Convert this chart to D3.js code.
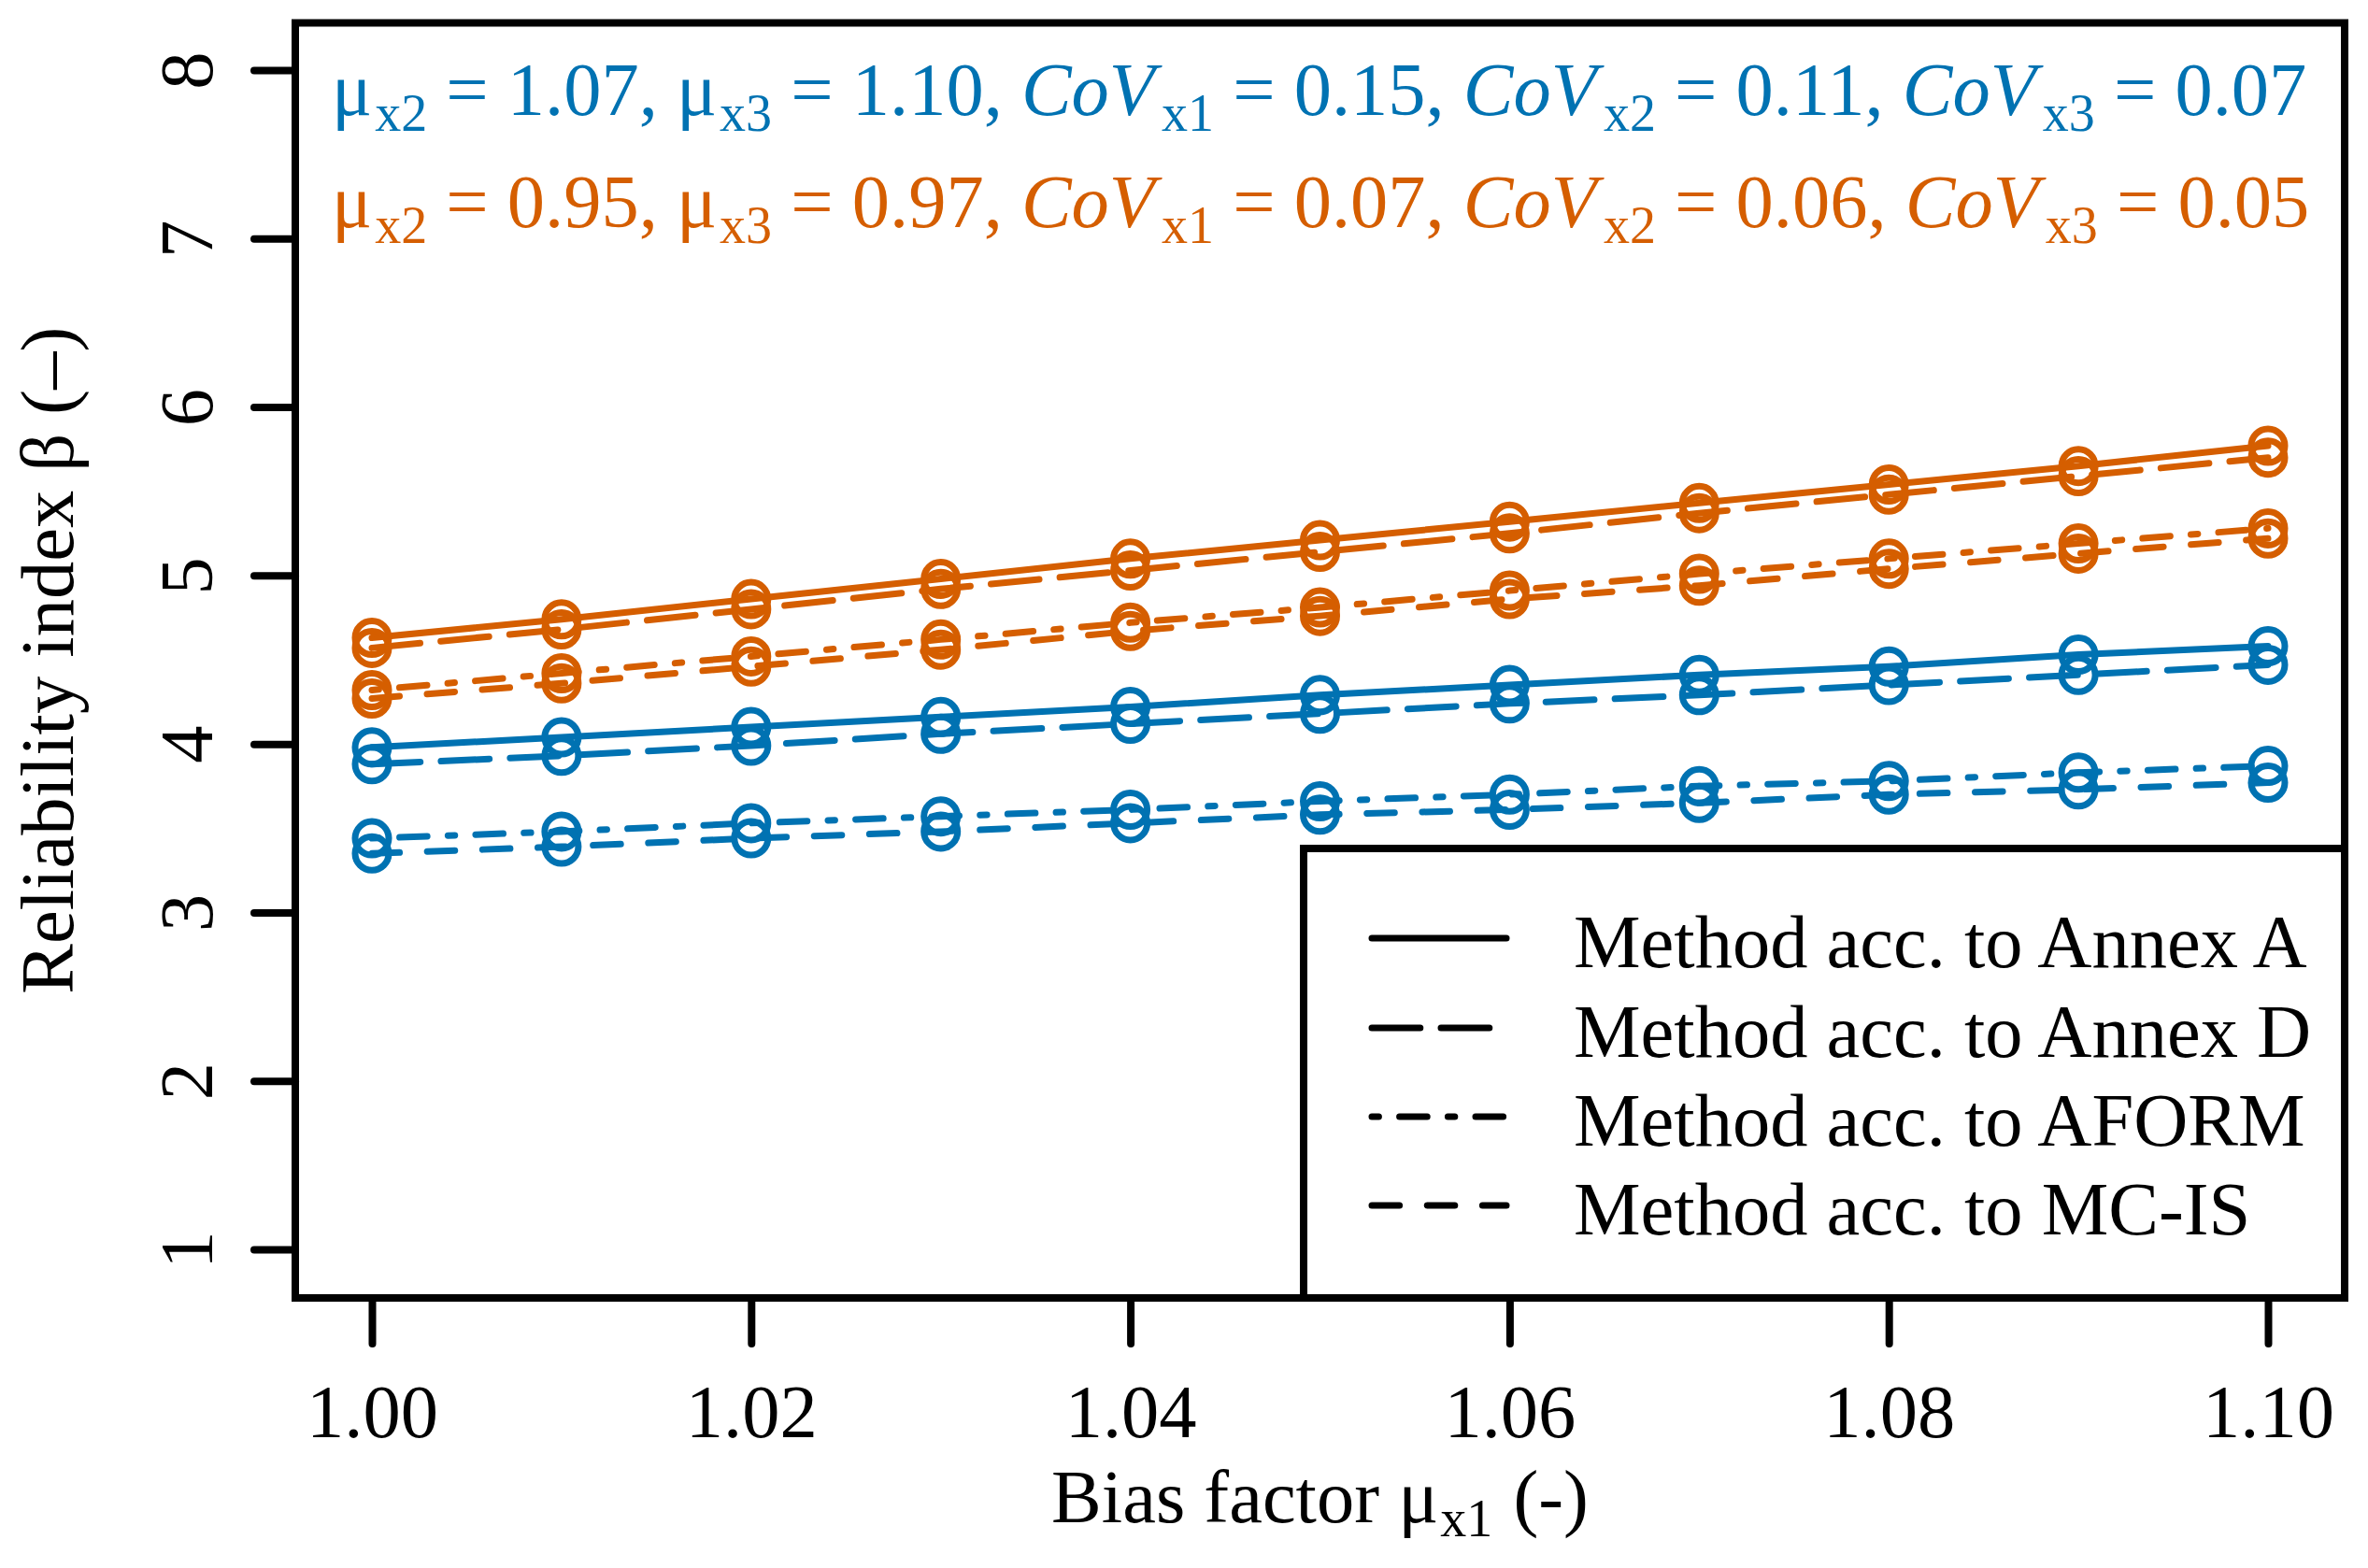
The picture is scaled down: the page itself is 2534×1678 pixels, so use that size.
<!DOCTYPE html>
<html>
<head>
<meta charset="utf-8">
<script src="https://cdn.jsdelivr.net/npm/d3@7/dist/d3.min.js"></script>
<style>
  html, body { margin: 0; padding: 0; background: #ffffff; }
  svg { display: block; }
  text { font-family: "Liberation Serif", "Times New Roman", serif; }
</style>
</head>
<body>
<script>
// ---------------- data ----------------
const biasFactor = [1.00, 1.01, 1.02, 1.03, 1.04, 1.05, 1.06, 1.07, 1.08, 1.09, 1.10];

const blueAnnexA = [3.98, 4.04, 4.10, 4.16, 4.22, 4.29, 4.35, 4.41, 4.46, 4.53, 4.58];
const blueAnnexD = [3.88, 3.93, 3.99, 4.06, 4.12, 4.18, 4.24, 4.29, 4.35, 4.41, 4.47];
const blueAFORM  = [3.44, 3.48, 3.53, 3.57, 3.61, 3.66, 3.70, 3.75, 3.78, 3.83, 3.87];
const blueMCIS   = [3.35, 3.39, 3.44, 3.48, 3.53, 3.58, 3.61, 3.65, 3.70, 3.73, 3.77];

const orangeAnnexA = [4.63, 4.74, 4.86, 4.98, 5.10, 5.21, 5.32, 5.43, 5.54, 5.65, 5.77];
const orangeAnnexD = [4.57, 4.68, 4.80, 4.92, 5.03, 5.14, 5.25, 5.37, 5.48, 5.59, 5.70];
const orangeAFORM  = [4.32, 4.42, 4.52, 4.62, 4.72, 4.81, 4.91, 5.01, 5.10, 5.19, 5.28];
const orangeMCIS   = [4.27, 4.36, 4.46, 4.56, 4.67, 4.76, 4.86, 4.94, 5.04, 5.13, 5.22];

const xTickValues = [1.00, 1.02, 1.04, 1.06, 1.08, 1.10];
const yTickValues = [1, 2, 3, 4, 5, 6, 7, 8];

const methodNames = ["Method acc. to Annex A", "Method acc. to Annex D",
                     "Method acc. to AFORM", "Method acc. to MC-IS"];

// annotation parameters (blue row, orange row)
const muX2  = ["1.07", "0.95"];
const muX3  = ["1.10", "0.97"];
const covX1 = ["0.15", "0.07"];
const covX2 = ["0.11", "0.06"];
const covX3 = ["0.07", "0.05"];

const xTitle = "Bias factor μ";
const yTitle = "Reliability index β (–)";

// ---------------- styles ----------------
const W = 2534, H = 1678;
const BLUE = "#0072B2", ORANGE = "#D55E00";
const FS = 80.5;        // main font size
const SUBFS = 56;       // subscript font size
const LW = 7;           // data line width
const U = 7.4;          // dash unit
const dashes = [null, [7*U, 3*U], [1*U, 3*U, 4*U, 3*U], [4*U, 4*U]];

const box = { l: 316, r: 2509, t: 24.5, b: 1389 };

const svg = d3.select("body").append("svg")
  .attr("width", W).attr("height", H).attr("viewBox", `0 0 ${W} ${H}`);
svg.append("rect").attr("width", W).attr("height", H).attr("fill", "#fff");

const x = d3.scaleLinear().domain([1.00, 1.10]).range([398, 2427]);
const y = d3.scaleLinear().domain([1, 8]).range([1337, 75]);

// ---------------- data series ----------------
const groups = [
  { color: BLUE,   series: [blueAnnexA, blueAnnexD, blueAFORM, blueMCIS] },
  { color: ORANGE, series: [orangeAnnexA, orangeAnnexD, orangeAFORM, orangeMCIS] }
];

const line = d3.line().x(d => x(d[0])).y(d => y(d[1]));
const plotG = svg.append("g");
groups.forEach(g => {
  g.series.forEach((vals, mi) => {
    const pts = biasFactor.map((b, i) => [b, vals[i]]);
    plotG.append("path")
      .attr("d", line(pts))
      .attr("fill", "none")
      .attr("stroke", g.color)
      .attr("stroke-width", LW)
      .attr("stroke-linecap", "round")
      .attr("stroke-linejoin", "round")
      .attr("stroke-dasharray", dashes[mi] ? dashes[mi].join(" ") : null);
    plotG.selectAll(null).data(pts).enter().append("circle")
      .attr("cx", d => x(d[0])).attr("cy", d => y(d[1]))
      .attr("r", 18)
      .attr("fill", "none")
      .attr("stroke", g.color)
      .attr("stroke-width", LW);
  });
});

// ---------------- axes ----------------
const FF = '"Liberation Serif", "Times New Roman", serif';
const gY = svg.append("g").attr("transform", `translate(${box.l},0)`)
  .call(d3.axisLeft(y).tickValues(yTickValues).tickSize(44).tickPadding(0).tickFormat(d3.format("d")));
gY.select(".domain").remove();
gY.selectAll(".tick line").attr("stroke", "#000").attr("stroke-width", 8).attr("stroke-linecap", "round");
gY.selectAll(".tick text")
  .attr("x", null).attr("dy", null)
  .attr("text-anchor", "middle")
  .attr("transform", "translate(-89,0) rotate(-90)")
  .attr("font-size", FS).attr("fill", "#000")
  .style("font-family", FF);

const gX = svg.append("g").attr("transform", `translate(0,${box.b})`)
  .call(d3.axisBottom(x).tickValues(xTickValues).tickSize(49).tickPadding(0).tickFormat(d3.format(".2f")));
gX.select(".domain").remove();
gX.selectAll(".tick line").attr("stroke", "#000").attr("stroke-width", 8).attr("stroke-linecap", "round");
gX.selectAll(".tick text")
  .attr("y", 149).attr("dy", null)
  .attr("text-anchor", "middle")
  .attr("font-size", FS).attr("fill", "#000")
  .style("font-family", FF);

// plot box
svg.append("rect")
  .attr("x", box.l).attr("y", box.t)
  .attr("width", box.r - box.l).attr("height", box.b - box.t)
  .attr("fill", "none").attr("stroke", "#000").attr("stroke-width", 8);

// ---------------- rich text helper ----------------
// pieces: {t, size, italic, dy, dx, after}; laid out left to right
function richText(parent, pieces, x0, baseY, color) {
  const g = parent.append("g");
  let cx = x0;
  pieces.forEach(p => {
    cx += (p.dx || 0);
    const t = g.append("text")
      .attr("x", cx).attr("y", baseY + (p.dy || 0))
      .attr("font-size", p.size || FS)
      .attr("fill", color)
      .attr("font-style", p.italic ? "italic" : null)
      .style("white-space", "pre")
      .text(p.t);
    cx += t.node().getComputedTextLength() + (p.after || 0);
  });
  return { g, width: cx - x0 };
}

// ---------------- axis titles ----------------
const xTitlePieces = [
  { t: xTitle },
  { t: "x1", size: SUBFS, dy: 15, dx: 2, after: 2 },
  { t: " (-)" }
];
const tmp = richText(svg, xTitlePieces, 0, -500, "#000");
const xtw = tmp.width;
tmp.g.remove();
richText(svg, xTitlePieces, (box.l + box.r) / 2 - xtw / 2, 1629, "#000");

svg.append("text")
  .attr("transform", `translate(78,${(box.t + box.b) / 2}) rotate(-90)`)
  .attr("text-anchor", "middle").attr("font-size", FS).attr("fill", "#000")
  .text(yTitle);

// ---------------- annotations ----------------
const SHIFT = 17;
function annot(row, color, baseY) {
  const sub = (s, dx) => ({ t: s, size: SUBFS, dy: SHIFT, dx: dx || 3 });
  const pieces = [
    { t: "μ" }, sub("x2"),
    { t: " = " + muX2[row] + ", μ" }, sub("x3"),
    { t: " = " + muX3[row] + ", " },
    { t: "CoV", italic: true }, sub("x1", 7),
    { t: " = " + covX1[row] + ", " },
    { t: "CoV", italic: true }, sub("x2", 7),
    { t: " = " + covX2[row] + ", " },
    { t: "CoV", italic: true }, sub("x3", 7),
    { t: " = " + covX3[row] }
  ];
  richText(svg, pieces, 355, baseY, color);
}
annot(0, BLUE, 123);
annot(1, ORANGE, 243);

// ---------------- legend ----------------
const leg = svg.append("g");
leg.append("rect")
  .attr("x", 1395).attr("y", 908)
  .attr("width", box.r - 1395).attr("height", box.b - 908)
  .attr("fill", "#fff").attr("stroke", "#000").attr("stroke-width", 8);
const legRows = [1004, 1100, 1195, 1290];
methodNames.forEach((name, i) => {
  leg.append("line")
    .attr("x1", 1468).attr("x2", 1612)
    .attr("y1", legRows[i]).attr("y2", legRows[i])
    .attr("stroke", "#000").attr("stroke-width", LW)
    .attr("stroke-linecap", "round")
    .attr("stroke-dasharray", dashes[i] ? dashes[i].join(" ") : null);
  leg.append("text")
    .attr("x", 1684).attr("y", legRows[i] + 31)
    .attr("font-size", FS).attr("fill", "#000")
    .text(name);
});
</script>
</body>
</html>
